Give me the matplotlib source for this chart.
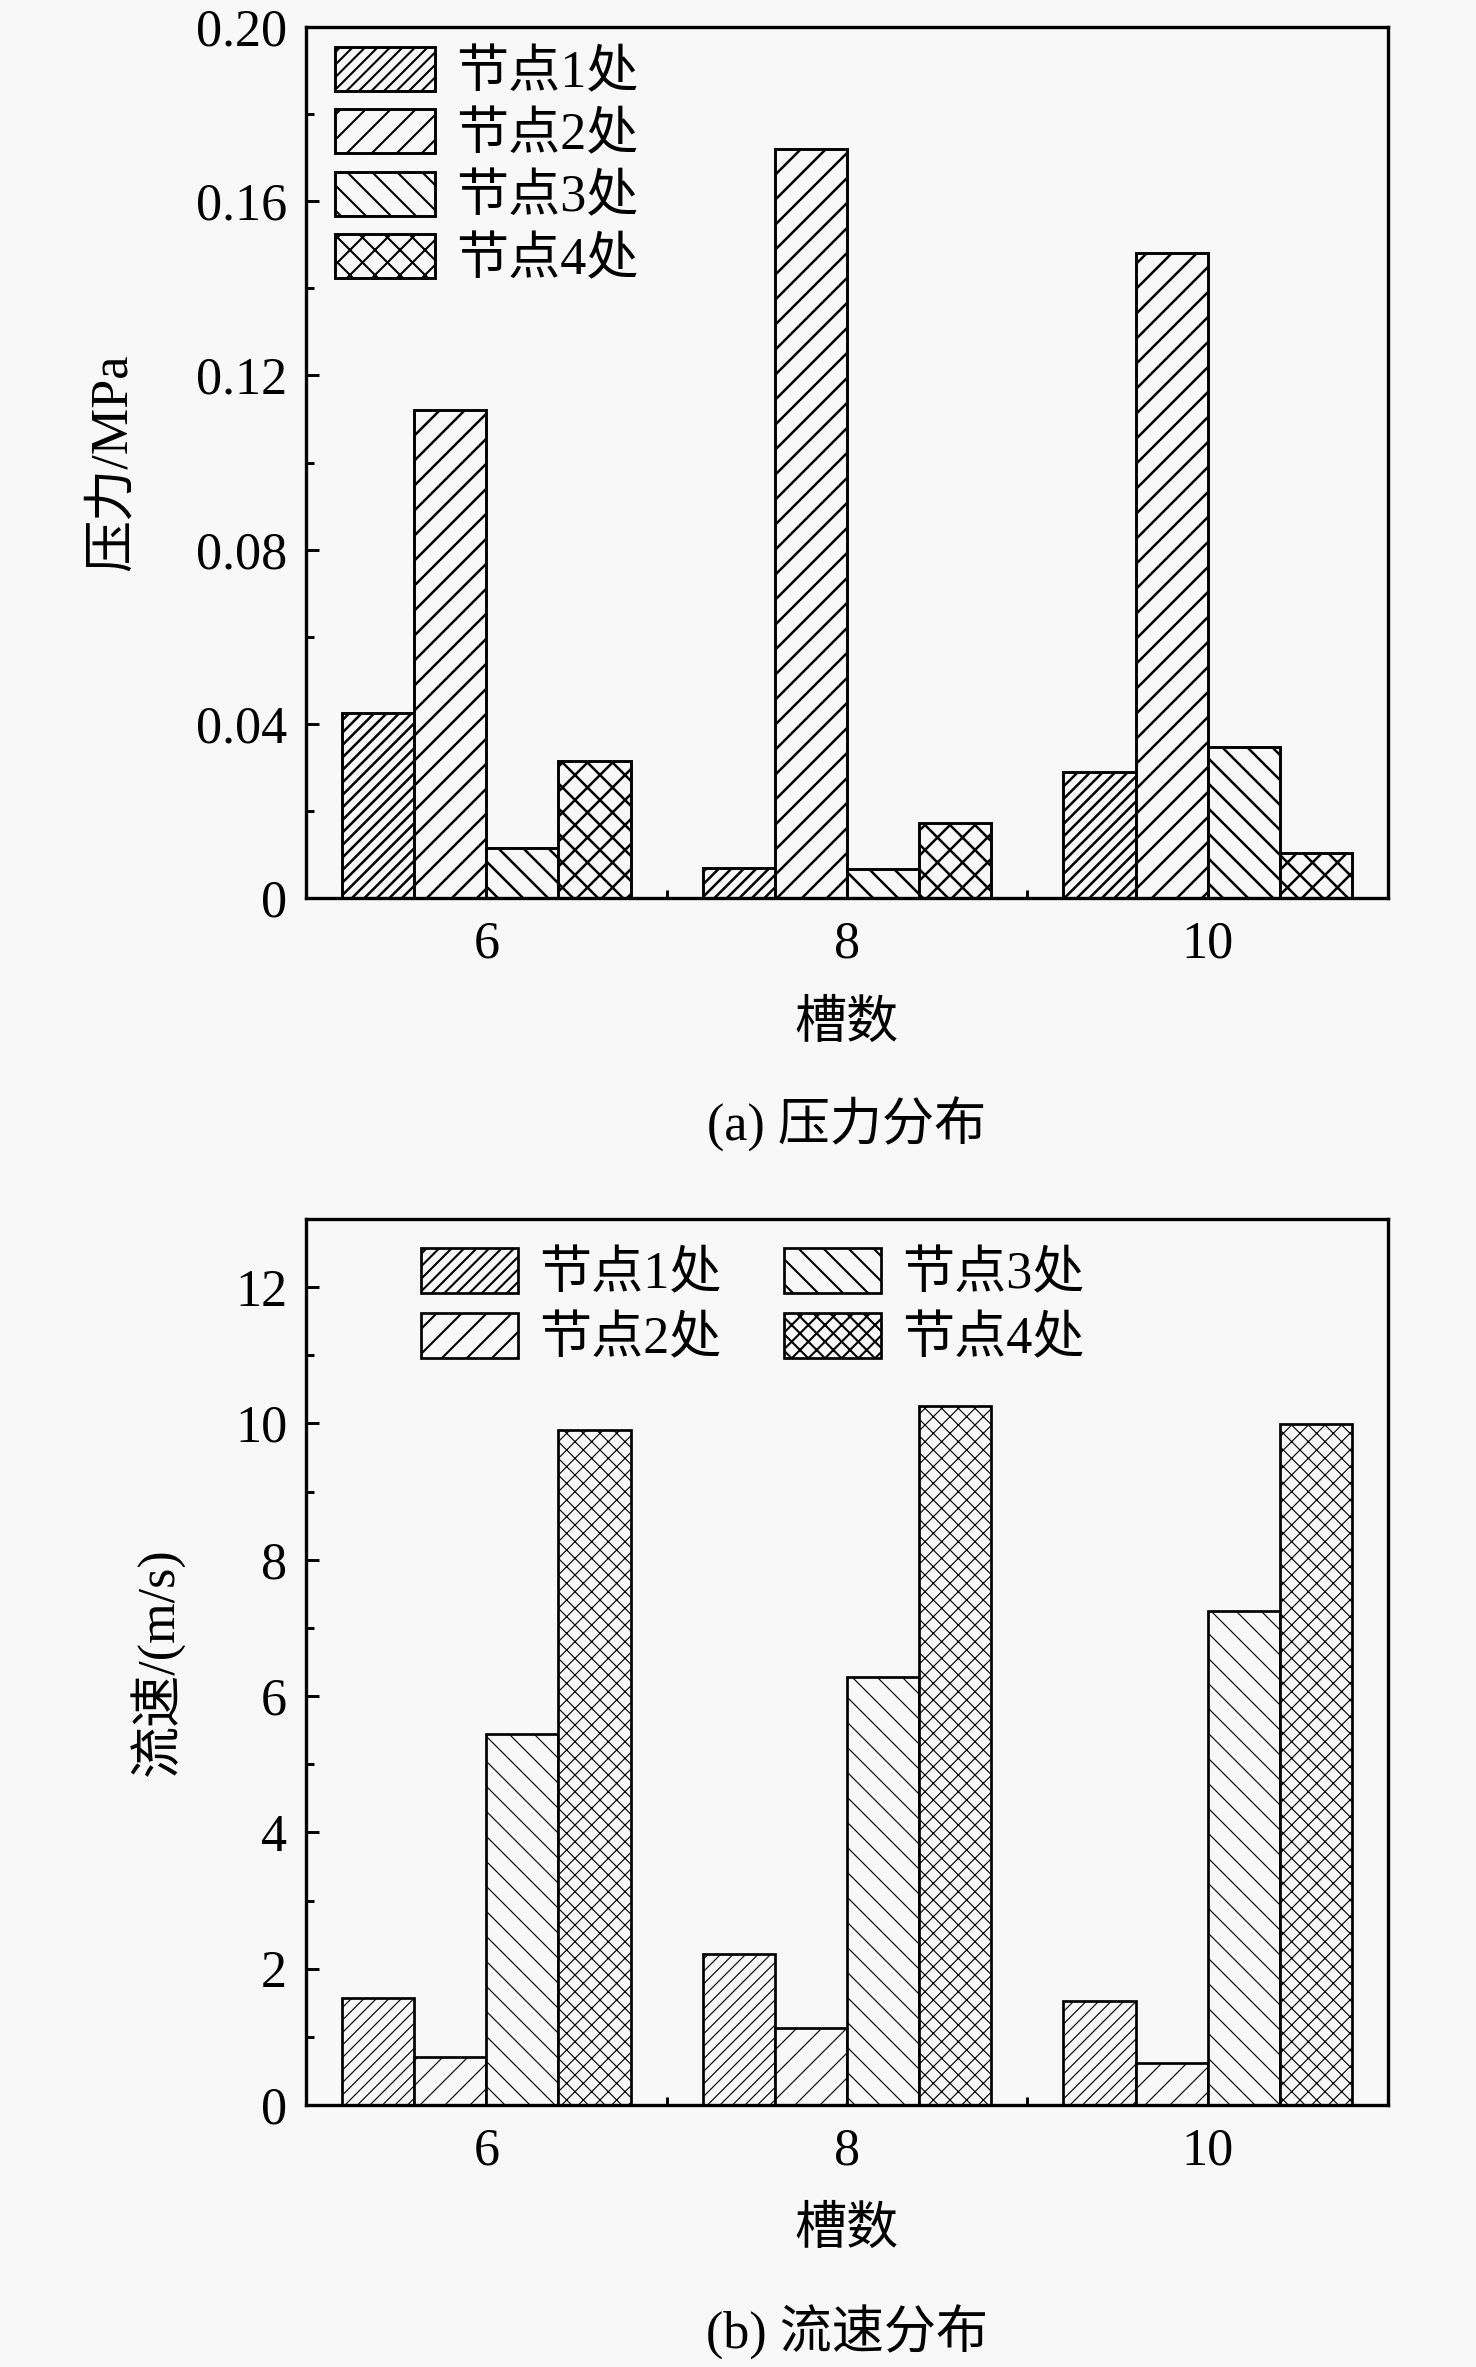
import matplotlib
matplotlib.use("Agg")
import matplotlib.pyplot as plt
import numpy as np
from matplotlib.ticker import MultipleLocator, FixedLocator, FuncFormatter

plt.rcParams['font.family'] = ['Liberation Serif', 'Noto Sans CJK SC']
plt.rcParams['axes.unicode_minus'] = False

# ---- data ----
slots = ['6', '8', '10']
labels = ['节点1处', '节点2处', '节点3处', '节点4处']
pressure_n1 = [0.0426, 0.0069, 0.0289]
pressure_n2 = [0.112, 0.172, 0.148]
pressure_n3 = [0.0114, 0.0066, 0.0347]
pressure_n4 = [0.0315, 0.0172, 0.0103]
speed_n1 = [1.57, 2.21, 1.52]
speed_n2 = [0.70, 1.13, 0.62]
speed_n3 = [5.44, 6.28, 7.25]
speed_n4 = [9.90, 10.26, 9.99]

BG = '#f8f8f8'
FS = 25
DPI = 150
fig = plt.figure(figsize=(1476 / DPI, 2367 / DPI), dpi=DPI, facecolor=BG)

ax1 = fig.add_axes([0.2073, 0.6206, 0.7331, 0.368])
ax2 = fig.add_axes([0.2073, 0.1107, 0.7331, 0.3743])

x = np.arange(len(slots))
w = 0.2
offsets = [-1.5 * w, -0.5 * w, 0.5 * w, 1.5 * w]


def draw(ax, series, hatches, hlw, elw):
    bars = []
    for i, (vals, h) in enumerate(zip(series, hatches)):
        b = ax.bar(x + offsets[i], vals, width=w, facecolor=BG, edgecolor='black',
                   linewidth=elw, hatch=h, label=labels[i], zorder=2)
        for p in b:
            p.set_hatch_linewidth(hlw)
        bars.append(b)
    ax.set_facecolor(BG)
    ax.set_xlim(-0.5, 2.5)
    ax.set_xticks(x)
    ax.set_xticklabels(slots)
    ax.xaxis.set_minor_locator(FixedLocator([0.5, 1.5]))
    ax.tick_params(axis='both', which='both', direction='in', top=False, right=False,
                   labelsize=FS, width=1.4)
    ax.tick_params(axis='y', which='major', length=6, pad=9)
    ax.tick_params(axis='y', which='minor', length=4)
    ax.tick_params(axis='x', which='major', length=0, pad=11)
    ax.tick_params(axis='x', which='minor', length=4)
    for s in ax.spines.values():
        s.set_linewidth(1.6)
    return bars


# ---- panel (a) ----
draw(ax1, [pressure_n1, pressure_n2, pressure_n3, pressure_n4],
     ['////', '//', '\\\\', 'xx'], 1.2, 1.4)
ax1.set_ylim(0, 0.20)
ax1.yaxis.set_major_locator(MultipleLocator(0.04))
ax1.yaxis.set_minor_locator(MultipleLocator(0.02))
ax1.yaxis.set_major_formatter(FuncFormatter(lambda v, p: '0' if abs(v) < 1e-9 else f'{v:.2f}'))
ax1.set_ylabel('压力/MPa', fontsize=FS)
ax1.yaxis.set_label_coords(-0.156, 0.5)
ax1.set_xlabel('槽数', fontsize=FS)
ax1.xaxis.set_label_coords(0.5, -0.118)
ax1.legend(loc='upper left', bbox_to_anchor=(0.027, 0.977), frameon=False,
           fontsize=FS, borderpad=0, handlelength=1.92, handleheight=0.92,
           handletextpad=0.4, labelspacing=0.22, borderaxespad=0)

# ---- panel (b) ----
draw(ax2, [speed_n1, speed_n2, speed_n3, speed_n4],
     ['////', '//', '\\\\', 'xxx'], 0.55, 1.3)
ax2.set_ylim(0, 13)
ax2.yaxis.set_major_locator(MultipleLocator(2))
ax2.yaxis.set_minor_locator(MultipleLocator(1))
ax2.set_ylabel('流速/(m/s)', fontsize=FS)
ax2.yaxis.set_label_coords(-0.112, 0.5)
ax2.set_xlabel('槽数', fontsize=FS)
ax2.xaxis.set_label_coords(0.5, -0.115)
ax2.legend(loc='upper left', bbox_to_anchor=(0.106, 0.967), frameon=False, ncol=2,
           fontsize=FS, borderpad=0, handlelength=1.87, handleheight=0.95,
           handletextpad=0.4, labelspacing=0.25, columnspacing=1.2, borderaxespad=0)

fig.text(0.5737, 1 - 1124 / 2367, '(a) 压力分布', fontsize=FS, ha='center', va='center')
fig.text(0.5737, 1 - 2332 / 2367, '(b) 流速分布', fontsize=FS, ha='center', va='center')

fig.savefig('out.png', dpi=DPI, facecolor=BG)
